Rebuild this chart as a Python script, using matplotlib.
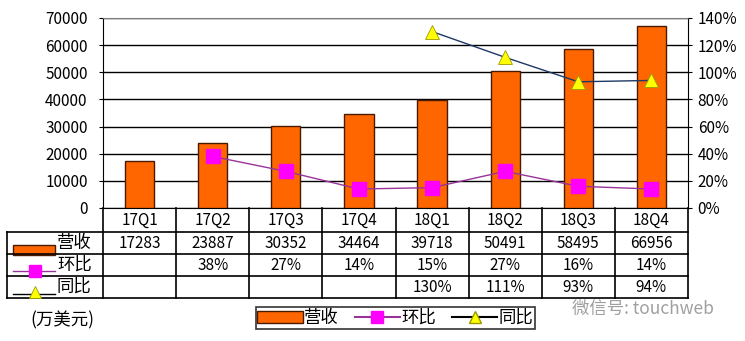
import numpy as np
import matplotlib.pyplot as plt
from matplotlib.lines import Line2D
from matplotlib.patches import Patch, Rectangle

plt.rcParams['font.family'] = ['Noto Sans CJK SC', 'DejaVu Sans']
plt.rcParams['font.size'] = 11

quarters = ['17Q1', '17Q2', '17Q3', '17Q4', '18Q1', '18Q2', '18Q3', '18Q4']
revenue = [17283, 23887, 30352, 34464, 39718, 50491, 58495, 66956]
qoq = [None, 38, 27, 14, 15, 27, 16, 14]      # 环比, %
yoy = [None, None, None, None, 130, 111, 93, 94]  # 同比, %

BAR_C = '#FF6600'
BAR_EDGE = '#4a1a00'
QOQ_LINE = '#993399'
QOQ_MK = '#FF00FF'
YOY_LINE = '#1F3864'
YOY_MK = '#FFFF00'
NUM_FS = 11
CJK_FS = 12.5

W, H = 745, 341
fig = plt.figure(figsize=(W / 100, H / 100), dpi=100)

# plot area in pixel terms
px_l, px_r, px_t, px_b = 103, 688, 18, 208
ax = fig.add_axes([px_l / W, 1 - px_b / H, (px_r - px_l) / W, (px_b - px_t) / H])
x = np.arange(len(quarters))
ax.bar(x, revenue, width=0.4, color=BAR_C, edgecolor=BAR_EDGE, linewidth=1, zorder=3)
ax.set_xlim(-0.5, len(quarters) - 0.5)
ax.set_ylim(0, 70000)
ax.set_yticks(range(0, 70001, 10000))
ax.set_xticks([])
ax.yaxis.grid(True, color='black', linewidth=1)
ax.set_axisbelow(True)
ax.tick_params(axis='y', length=3, pad=8, labelsize=NUM_FS)
for s in ['left', 'right', 'bottom']:
    ax.spines[s].set_color('black')
ax.spines['top'].set_color('#808080')

ax2 = ax.twinx()
ax2.set_ylim(0, 140)
ax2.set_yticks(range(0, 141, 20))
ax2.set_yticklabels([f'{v}%' for v in range(0, 141, 20)])
ax2.tick_params(axis='y', length=3, pad=4, labelsize=NUM_FS)
qx = [i for i, v in enumerate(qoq) if v is not None]
qy = [v for v in qoq if v is not None]
ax2.plot(qx, qy, color=QOQ_LINE, linewidth=1, marker='s', markersize=9.5,
         markerfacecolor=QOQ_MK, markeredgecolor=QOQ_MK, zorder=4)
yx = [i for i, v in enumerate(yoy) if v is not None]
yy = [v for v in yoy if v is not None]
ax2.plot(yx, yy, color=YOY_LINE, linewidth=1, marker='^', markersize=9.5,
         markerfacecolor=YOY_MK, markeredgecolor='#999900', markeredgewidth=0.6, zorder=4)
for s in ax2.spines.values():
    s.set_visible(False)

# data table under the chart, drawn on a full-figure overlay in pixel units
ov = fig.add_axes([0, 0, 1, 1])
ov.set_xlim(0, W)
ov.set_ylim(H, 0)
ov.axis('off')

col_w = (px_r - px_l) / len(quarters)
rows = [px_b, 232, 254, 276, 298]
tbl_l = 7
lw = 1.2
for i in range(len(quarters) + 1):
    xx = px_l + i * col_w
    ov.plot([xx, xx], [rows[0], rows[-1]], color='black', lw=lw)
ov.plot([tbl_l, tbl_l], [rows[1], rows[-1]], color='black', lw=lw)
for r in rows[1:]:
    ov.plot([tbl_l, px_r], [r, r], color='black', lw=lw)

for i, q in enumerate(quarters):
    cx = px_l + (i + 0.5) * col_w
    ov.text(cx, (rows[0] + rows[1]) / 2, q, ha='center', va='center', fontsize=NUM_FS)
    ov.text(cx, (rows[1] + rows[2]) / 2, str(revenue[i]), ha='center', va='center',
            fontsize=NUM_FS)
    if qoq[i] is not None:
        ov.text(cx, (rows[2] + rows[3]) / 2, f'{qoq[i]}%', ha='center', va='center',
                fontsize=NUM_FS)
    if yoy[i] is not None:
        ov.text(cx, (rows[3] + rows[4]) / 2, f'{yoy[i]}%', ha='center', va='center',
                fontsize=NUM_FS)

# row keys
names = ['营收', '环比', '同比']
for k, name in enumerate(names):
    cy = (rows[k + 1] + rows[k + 2]) / 2
    ov.text(57, cy, name, ha='left', va='center', fontsize=CJK_FS)
ov.add_patch(Rectangle((13, 245), 42, 10, facecolor=BAR_C, edgecolor=BAR_EDGE, lw=1))
ov.plot([13, 55], [271, 271], color=QOQ_LINE, lw=1)
ov.plot([35], [271], marker='s', markersize=9, color=QOQ_MK)
ov.plot([13, 55], [294, 294], color='black', lw=1)
ov.plot([35], [292], marker='^', markersize=8, markerfacecolor=YOY_MK,
        markeredgecolor='#999900', markeredgewidth=0.6)

ov.text(30, 320, '(万美元)', ha='left', va='center', fontsize=CJK_FS)
ov.text(572, 309, '微信号: touchweb', ha='left', va='center', fontsize=CJK_FS,
        color='#a0a0a0')

handles = [Patch(facecolor=BAR_C, edgecolor=BAR_EDGE),
           Line2D([], [], color=QOQ_LINE, marker='s', markersize=9,
                  markerfacecolor=QOQ_MK, markeredgecolor=QOQ_MK),
           Line2D([], [], color='black', marker='^', markersize=8,
                  markerfacecolor=YOY_MK, markeredgecolor='#999900')]
leg = fig.legend(handles, names, ncol=3, loc='center',
                 bbox_to_anchor=((258 + 533) / 2 / W, 1 - 318 / H),
                 frameon=True, fancybox=False, edgecolor='black', fontsize=CJK_FS,
                 handlelength=2.6, handletextpad=0.1, columnspacing=0.9,
                 borderpad=0.1, borderaxespad=0)
leg.get_frame().set_linewidth(1.2)

fig.savefig('out.png', dpi=100)
